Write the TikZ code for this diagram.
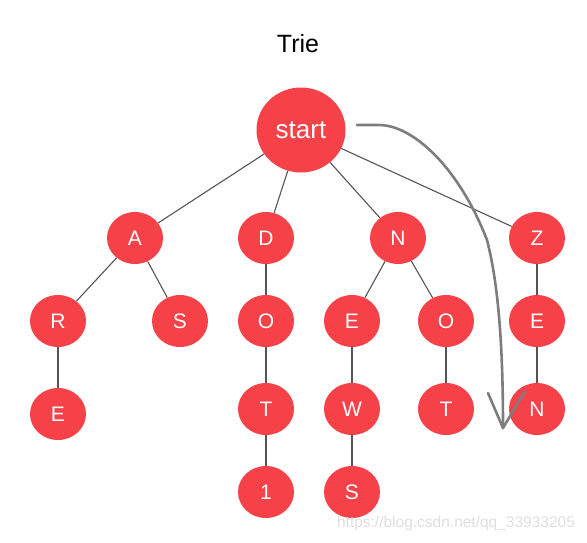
\documentclass[tikz,border=0pt]{standalone}
\usepackage{fontspec}
\setmainfont{Liberation Sans}
\usetikzlibrary{shapes.geometric}
\definecolor{trieRed}{RGB}{246,65,72}
\definecolor{edgeGray}{RGB}{85,85,85}
\definecolor{penGray}{RGB}{125,125,125}
\definecolor{markGray}{RGB}{222,222,222}
\begin{document}
\begin{tikzpicture}[
        x=1pt, y=-1pt,
        % Styles
        root/.style={% For the start node
            ellipse,
            fill=trieRed,
            text=white,
            minimum width=89pt,
            minimum height=85pt,
            inner sep=0pt,
            font=\fontsize{26}{28}\selectfont,
            },
        letter/.style={% For the letter nodes
            ellipse,
            fill=trieRed,
            text=white,
            minimum width=56pt,
            minimum height=52pt,
            inner sep=0pt,
            font=\fontsize{21}{23}\selectfont,
            },
        edge/.style={% Tree edges
            draw=edgeGray,
            line width=1.1pt,
            },
        pen/.style={% Hand drawn arrow
            draw=penGray,
            line width=2.6pt,
            line cap=round,
            line join=round,
            },
        ]
    \useasboundingbox (0,0) rectangle (587,542);

    % Title
    \node[font=\fontsize{25}{27}\selectfont] (title) at (298,44) {Trie};

    % Nodes
        \node [root] (start) at (301,130) {start};
        % first level
        \node [letter] (A) at (135,238) {A};
        \node [letter] (D) at (266,238) {D};
        \node [letter] (N) at (398,238) {N};
        \node [letter] (Z) at (537,238) {Z};
        % second level
        \node [letter] (AR) at (58,321) {R};
        \node [letter] (AS) at (180,321) {S};
        \node [letter] (DO) at (266,321) {O};
        \node [letter] (NE) at (352,321) {E};
        \node [letter] (NO) at (446,321) {O};
        \node [letter] (ZE) at (537,321) {E};
        % third level
        \node [letter] (ARE) at (58,414) {E};
        \node [letter] (DOT) at (266,409) {T};
        \node [letter] (NEW) at (352,409) {W};
        \node [letter] (NOT) at (446,409) {T};
        \node [letter] (ZEN) at (537,409) {N};
        % fourth level
        \node [letter] (DOT1) at (266,492) {1};
        \node [letter] (NEWS) at (352,492) {S};

    % Edges
        \draw [edge] (start) -- (A);
        \draw [edge] (start) -- (D);
        \draw [edge] (start) -- (N);
        \draw [edge] (start) -- (Z);
        \draw [edge] (A) -- (AR);
        \draw [edge] (A) -- (AS);
        \draw [edge] (AR) -- (ARE);
        \draw [edge] (D) -- (DO) -- (DOT) -- (DOT1);
        \draw [edge] (N) -- (NE);
        \draw [edge] (N) -- (NO);
        \draw [edge] (NE) -- (NEW) -- (NEWS);
        \draw [edge] (NO) -- (NOT);
        \draw [edge] (Z) -- (ZE) -- (ZEN);

    % Hand drawn arrow
        \coordinate (penStart) at (357,125);
        \coordinate (penTip) at (503,428);
        \coordinate (penLeft) at (488,393);
        \coordinate (penRight) at (525,391);
        \draw [pen] (penStart) -- (380,125)
            .. controls (415,126) and (460,170) .. (487,240)
            .. controls (500,290) and (503,360) .. (penTip);
        \draw [pen] (penLeft) -- (penTip) -- (penRight);

    % Watermark
    \node[text=markGray, font=\fontsize{15.5}{17}\selectfont] (mark) at (456,523) {https://blog.csdn.net/qq\_33933205};
\end{tikzpicture}
\end{document}
